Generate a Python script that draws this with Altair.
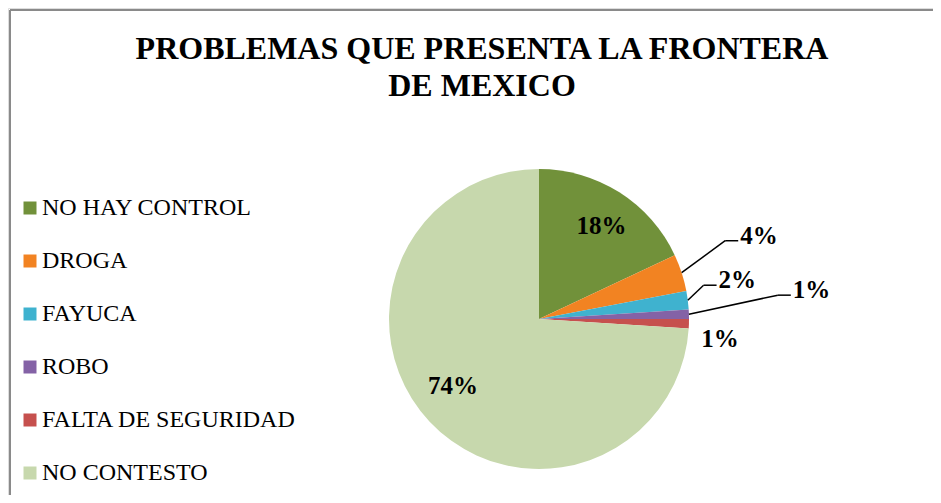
import altair as alt
import pandas as pd

# ---- data ----
CATEGORIES = ["NO HAY CONTROL", "DROGA", "FAYUCA", "ROBO", "FALTA DE SEGURIDAD", "NO CONTESTO"]
VALUES = [18, 4, 2, 1, 1, 74]
LABELS = ["18%", "4%", "2%", "1%", "1%", "74%"]
TITLE_LINES = ["PROBLEMAS QUE PRESENTA LA FRONTERA", "DE MEXICO"]

# ---- style ----
COLORS = ["#71913A", "#F28322", "#3FB2CF", "#8462A6", "#C6504E", "#C7D8AD"]
LABEL_R = [112, 202, 168, 240, 182, 109]        # label anchor radius (px)
LABEL_DA = [1.5, -4.8, -4.4, -3.9, 4.4, 5.3]    # label angle tweak (deg)
LEADER = [0, 1, 1, 1, 0, 0]                     # has leader line
CX, CY, R = 531, 311, 150
W, H = 925, 487
FONT = "Liberation Serif"

df = pd.DataFrame({
    "cat": CATEGORIES,
    "value": VALUES,
    "label": LABELS,
    "idx": list(range(len(CATEGORIES))),
    "lr": LABEL_R,
    "da": LABEL_DA,
    "leader": LEADER,
})

base = alt.Chart(df).transform_joinaggregate(
    total="sum(value)"
).transform_window(
    cum="sum(value)", sort=[alt.SortField("idx")], frame=[None, 0]
).transform_calculate(
    mid="(datum.cum - datum.value/2) / datum.total * 2 * PI"
).transform_calculate(
    a="datum.mid + datum.da * PI / 180",
    sx=f"{CX} + {R} * sin(datum.mid)",
    sy=f"{CY} - {R} * cos(datum.mid)",
).transform_calculate(
    ex=f"{CX} + datum.lr * sin(datum.a)",
    ey=f"{CY} - datum.lr * cos(datum.a)",
).transform_calculate(
    hx="datum.ex + 13",
    tx="datum.ex + 15",
    ty="datum.ey - 5",
)

pie = alt.Chart(df).mark_arc(outerRadius=R, strokeWidth=0).encode(
    theta=alt.Theta("value:Q", stack=True),
    order=alt.Order("idx:Q"),
    color=alt.Color(
        "cat:N",
        sort=CATEGORIES,
        scale=alt.Scale(domain=CATEGORIES, range=COLORS),
        legend=alt.Legend(
            title=None, orient="none", legendX=10, legendY=188,
            symbolType="square", symbolSize=169, symbolStrokeWidth=0,
            labelFont=FONT, labelFontSize=24, labelColor="#000000",
            labelOffset=0, rowPadding=29, padding=0, labelLimit=400,
        ),
    ),
    x=alt.value(CX),
    y=alt.value(CY),
)

leader1 = base.transform_filter("datum.leader == 1").mark_rule(
    color="#000000", strokeWidth=1.5
).encode(
    x=alt.X("sx:Q", scale=None, axis=None),
    y=alt.Y("sy:Q", scale=None, axis=None),
    x2="ex:Q",
    y2="ey:Q",
)
leader2 = base.transform_filter("datum.leader == 1").mark_rule(
    color="#000000", strokeWidth=1.5
).encode(
    x=alt.X("ex:Q", scale=None, axis=None),
    y=alt.Y("ey:Q", scale=None, axis=None),
    x2="hx:Q",
)

text_out = base.transform_filter("datum.leader == 1").mark_text(
    font=FONT, fontSize=25, fontWeight="bold", align="left", baseline="middle", color="#000000"
).encode(
    x=alt.X("tx:Q", scale=None, axis=None),
    y=alt.Y("ty:Q", scale=None, axis=None),
    text="label:N",
)
text_in = base.transform_filter("datum.leader == 0").mark_text(
    font=FONT, fontSize=25, fontWeight="bold", align="center", baseline="middle", color="#000000"
).encode(
    x=alt.X("ex:Q", scale=None, axis=None),
    y=alt.Y("ey:Q", scale=None, axis=None),
    text="label:N",
)

one = pd.DataFrame({"k": [0]})
title = alt.Chart(one).mark_text(
    text=TITLE_LINES, font=FONT, fontSize=32, fontWeight="bold",
    lineHeight=37, align="center", baseline="alphabetic", color="#000000"
).encode(x=alt.value(474), y=alt.value(51))

border_top = alt.Chart(one).mark_rule(color="#8A8A8A", strokeWidth=2).encode(
    x=alt.value(2), x2=alt.value(W), y=alt.value(2)
)
border_left = alt.Chart(one).mark_rule(color="#8A8A8A", strokeWidth=2).encode(
    x=alt.value(2), y=alt.value(2), y2=alt.value(H)
)

chart = alt.layer(
    border_top, border_left, pie, leader1, leader2, text_out, text_in, title
).properties(
    width=W, height=H, padding=0,
    autosize=alt.AutoSizeParams(type="none"),
).configure_view(stroke=None).configure(background="#FFFFFF")

chart.save("out.html", embed_options={"renderer": "svg", "actions": False})
